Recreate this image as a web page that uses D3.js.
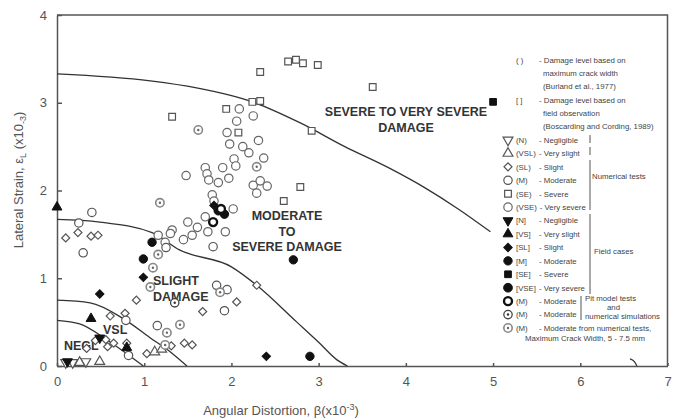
<!DOCTYPE html>
<html>
<head>
<meta charset="utf-8">
<script src="https://cdn.jsdelivr.net/npm/d3@7"></script>
<style>
  body { margin: 0; background: #fff; }
  svg { font-family: Arial, "Liberation Sans", sans-serif; }
  .axis text { font-size: 13px; fill: #555; }
  .axis path, .axis line { stroke: #555; stroke-width: 1.5; }
  .zone { font-weight: bold; font-size: 12.5px; fill: #333; }
  .leg { font-size: 7.8px; fill: #444; }
</style>
</head>
<body>
<script>
// numerical tests (open symbols)
var numN   = [[0.10,0.04],[0.18,0.04],[0.33,0.05]];
var numVSL = [[0.26,0.04],[0.49,0.05],[1.12,0.16],[1.20,0.19]];
var numSL  = [[0.10,1.46],[0.24,1.52],[0.39,1.48],[0.47,1.49],[0.91,0.75],[0.61,0.57],[0.78,0.60],
              [0.56,0.30],[0.44,0.29],[0.65,0.26],[0.58,0.22],[0.80,0.26],[1.03,0.14],[1.31,0.23],
              [1.46,0.26],[1.55,0.24],[1.67,0.62],[2.06,0.73],[2.29,0.92],[0.34,0.20]];
var numM   = [[0.40,1.75],[0.25,1.63],[0.30,1.29],[1.83,0.92],[1.95,0.87],[1.92,0.63],[1.15,0.46],
              [0.79,0.52],[0.82,0.12],[1.25,1.35],[1.79,1.36]];
var numSE  = [[2.65,3.47],[2.74,3.49],[2.82,3.45],[2.99,3.43],[2.33,3.35],[2.24,3.01],[2.33,3.02],
              [1.94,2.93],[1.32,2.84],[2.08,2.66],[2.92,2.68],[2.79,2.04],[2.60,1.88],[3.62,3.18]];
var numVSE = [[2.09,2.93],[2.25,2.85],[2.06,2.79],[1.95,2.66],[1.98,2.53],[2.13,2.50],[2.31,2.57],
              [2.20,2.43],[2.37,2.37],[2.03,2.36],[2.05,2.28],[1.90,2.26],[1.70,2.26],[1.72,2.19],
              [1.48,2.17],[1.74,2.12],[1.85,2.09],[1.97,2.14],[2.25,2.06],[2.33,2.11],[2.41,2.05],
              [2.29,1.97],[1.78,1.95],[1.80,1.88],[2.02,1.79],[1.50,1.64],[1.61,1.58],[1.70,1.70],
              [1.93,1.53],[1.73,1.53],[1.45,1.44],[1.55,1.49],[1.32,1.55],[1.16,1.49],[1.24,1.41],
              [1.30,1.51]];
// field cases (filled symbols)
var fieldN   = [[0.12,0.05],[0.49,0.32]];
var fieldVS  = [[0,1.81],[0.39,0.54],[0.80,0.21]];
var fieldSL  = [[0.49,0.82],[0.99,1.01],[2.40,0.11],[1.80,1.83]];
var fieldM   = [[1.09,1.41],[0.99,1.22],[2.71,1.21],[2.90,0.11],[1.92,1.73]];
var fieldSE  = [[5.0,3.01]];
var fieldVSE = [[1.85,1.77]];
// pit model tests / numerical simulations
var pitBold = [[1.79,1.64],[1.88,1.79]];
var pitDot  = [[1.35,0.72]];
var numGray = [[1.62,2.69],[2.29,2.27],[1.18,1.86],[1.16,1.27],[1.10,1.12],[1.07,0.90],[1.41,0.47],
               [1.26,0.38],[1.24,0.24],[1.87,0.84]];

// damage boundary curves
var curveSevere = [[0,3.33],[1.07,3.25],[1.6,3.17],[2.24,3.01],[2.79,2.77],[3.3,2.5],[3.8,2.26],[4.22,2.03],[4.6,1.79],[4.97,1.53]];
var curveSevereTail = [[6.57,0.08],[6.62,0.05],[6.65,0.0]];
var curveModerate = [[0,1.67],[0.49,1.64],[1.09,1.52],[1.41,1.32],[2.0,1.13],[2.29,0.92],[2.75,0.5],[3.0,0.27],[3.21,0.07],[3.33,0]];
var curveSlight = [[0,0.75],[0.38,0.72],[0.76,0.54],[1.07,0.32],[1.3,0.16],[1.49,0]];
var curveNegl = [[0,0.52],[0.26,0.48],[0.57,0.30],[0.8,0.14],[0.99,0]];

var xTicks = [0,1,2,3,4,5,6,7];
var yTicks = [0,1,2,3,4];

var svg = d3.select('body').append('svg')
    .attr('width', 681)
    .attr('height', 418);

var x = d3.scaleLinear().domain([0, 7]).range([57, 667.5]);
var y = d3.scaleLinear().domain([0, 4]).range([366, 15]);

// frame top / right
svg.append('path')
    .attr('d', 'M' + x(0) + ',' + y(4) + 'H' + x(7) + 'V' + y(0))
    .attr('fill', 'none').attr('stroke', '#555').attr('stroke-width', 1.5);

svg.append('g')
    .attr('class', 'axis')
    .attr('transform', 'translate(0,' + y(0) + ')')
    .call(d3.axisBottom(x).tickValues(xTicks).tickFormat(d3.format('d')).tickSizeInner(-3).tickSizeOuter(0).tickPadding(11));

svg.append('g')
    .attr('class', 'axis')
    .attr('transform', 'translate(' + x(0) + ',0)')
    .call(d3.axisLeft(y).tickValues(yTicks).tickFormat(d3.format('d')).tickSizeInner(-5).tickSizeOuter(0).tickPadding(10));

// boundary curves
var line = d3.line()
    .x(function(d) { return x(d[0]); })
    .y(function(d) { return y(d[1]); })
    .curve(d3.curveMonotoneX);

[curveSevere, curveSevereTail, curveModerate, curveSlight, curveNegl].forEach(function(c) {
  svg.append('path')
      .attr('d', line(c))
      .attr('fill', 'none')
      .attr('stroke', '#333')
      .attr('stroke-width', 1.3);
});

// zone labels
function zone(lines, cx, cy, anchor) {
  var t = svg.append('text').attr('class', 'zone').attr('text-anchor', anchor || 'middle');
  lines.forEach(function(s, i) {
    t.append('tspan').attr('x', cx).attr('y', cy + i * 15.5).text(s);
  });
}
zone(['SEVERE TO VERY SEVERE', 'DAMAGE'], 406, 116);
zone(['MODERATE', 'TO', 'SEVERE DAMAGE'], 287, 220);
zone(['SLIGHT', 'DAMAGE'], 153, 285, 'start');
zone(['VSL'], 103, 334, 'start');
zone(['NEGL'], 64, 350, 'start');

// marker styles
var styles = {
  numN:    {shape: d3.symbolTriangle, rot: 180, size: 42, fill: '#fff', stroke: '#555', sw: 1.2},
  numVSL:  {shape: d3.symbolTriangle, rot: 0,   size: 42, fill: '#fff', stroke: '#555', sw: 1.2},
  numSL:   {shape: d3.symbolSquare,   rot: 45,  size: 32, fill: '#fff', stroke: '#555', sw: 1.2},
  numM:    {shape: d3.symbolCircle,   rot: 0,   size: 55, fill: '#fff', stroke: '#555', sw: 1.2},
  numSE:   {shape: d3.symbolSquare,   rot: 0,   size: 45, fill: '#fff', stroke: '#555', sw: 1.2},
  numVSE:  {shape: d3.symbolCircle,   rot: 0,   size: 55, fill: '#fff', stroke: '#666', sw: 1.2},
  fieldN:  {shape: d3.symbolTriangle, rot: 180, size: 42, fill: '#111', stroke: '#111', sw: 1},
  fieldVS: {shape: d3.symbolTriangle, rot: 0,   size: 42, fill: '#111', stroke: '#111', sw: 1},
  fieldSL: {shape: d3.symbolSquare,   rot: 45,  size: 36, fill: '#111', stroke: '#111', sw: 1},
  fieldM:  {shape: d3.symbolCircle,   rot: 0,   size: 55, fill: '#111', stroke: '#111', sw: 1},
  fieldSE: {shape: d3.symbolSquare,   rot: 0,   size: 45, fill: '#111', stroke: '#111', sw: 1},
  fieldVSE:{shape: d3.symbolCircle,   rot: 0,   size: 60, fill: '#111', stroke: '#111', sw: 1},
  pitBold: {shape: d3.symbolCircle,   rot: 0,   size: 50, fill: '#fff', stroke: '#111', sw: 2.4},
  pitDot:  {shape: d3.symbolCircle,   rot: 0,   size: 55, fill: '#fff', stroke: '#444', sw: 1.3, dot: '#333'},
  numGray: {shape: d3.symbolCircle,   rot: 0,   size: 55, fill: '#fff', stroke: '#888', sw: 1.6, dot: '#666'}
};

function marker(g, key, px, py) {
  var s = styles[key];
  g.append('path')
      .attr('d', d3.symbol().type(s.shape).size(s.size)())
      .attr('transform', 'translate(' + px + ',' + py + ') rotate(' + s.rot + ')')
      .attr('fill', s.fill)
      .attr('stroke', s.stroke)
      .attr('stroke-width', s.sw);
  if (s.dot) {
    g.append('circle').attr('cx', px).attr('cy', py).attr('r', 1.2).attr('fill', s.dot);
  }
}

var series = {
  numSE: numSE, numVSE: numVSE, numSL: numSL, numM: numM, numN: numN, numVSL: numVSL,
  numGray: numGray, pitDot: pitDot, fieldN: fieldN, fieldVS: fieldVS, fieldSL: fieldSL,
  fieldM: fieldM, fieldSE: fieldSE, fieldVSE: fieldVSE, pitBold: pitBold
};

var marks = svg.append('g');
Object.keys(series).forEach(function(key) {
  series[key].forEach(function(d) {
    marker(marks, key, x(d[0]), y(d[1]));
  });
});

// legend
var legend = svg.append('g');
var legNotes = [
  ['( )', 516, 63], ['- Damage level based on', 539, 63], ['maximum crack width', 543, 76],
  ['(Burland et al., 1977)', 543, 89],
  ['[ ]', 516, 103], ['- Damage level based on', 539, 103], ['field observation', 543, 116],
  ['(Boscarding and Cording, 1989)', 543, 129]
];
legNotes.forEach(function(n) {
  legend.append('text').attr('class', 'leg').attr('x', n[1]).attr('y', n[2]).text(n[0]);
});

var legItems = [
  ['numN',     '(N)',   '- Negligible'],
  ['numVSL',   '(VSL)', '- Very slight'],
  ['numSL',    '(SL)',  '- Slight'],
  ['numM',     '(M)',   '- Moderate'],
  ['numSE',    '(SE)',  '- Severe'],
  ['numVSE',   '(VSE)', '- Very severe'],
  ['fieldN',   '[N]',   '- Negligible'],
  ['fieldVS',  '[VS]',  '- Very slight'],
  ['fieldSL',  '[SL]',  '- Slight'],
  ['fieldM',   '[M]',   '- Moderate'],
  ['fieldSE',  '[SE]',  '- Severe'],
  ['fieldVSE', '[VSE]', '- Very severe'],
  ['pitBold',  '(M)',   '- Moderate'],
  ['pitDot',   '(M)',   '- Moderate'],
  ['numGray',  '(M)',   '- Moderate from numerical tests,']
];
var legY = d3.scaleLinear().domain([0, 14]).range([140, 328]);
legItems.forEach(function(item, i) {
  marker(legend, item[0], 508, legY(i));
  var code = legend.append('text').attr('class', 'leg')
      .attr('x', 516).attr('y', legY(i) + 2.8)
      .text(item[1]);
  var w = code.node().getComputedTextLength();
  legend.append('text').attr('class', 'leg')
      .attr('x', Math.max(539, 516 + w + 3)).attr('y', legY(i) + 2.8)
      .text(item[2]);
});
legend.append('text').attr('class', 'leg').attr('x', 525).attr('y', 341)
    .text('Maximum Crack Width, 5 - 7.5 mm');

// brackets
function bracket(x0, y0, y1) {
  legend.append('line').attr('x1', x0).attr('x2', x0).attr('y1', y0).attr('y2', y1)
      .attr('stroke', '#555').attr('stroke-width', 1);
}
bracket(590, 135, 143); bracket(590, 147, 155); bracket(590, 160, 210);
bracket(590, 214, 294); bracket(581, 296, 320);
legend.append('text').attr('class', 'leg').attr('x', 592).attr('y', 179).text('Numerical tests');
legend.append('text').attr('class', 'leg').attr('x', 594).attr('y', 254).text('Field cases');
legend.append('text').attr('class', 'leg').attr('x', 585).attr('y', 301).text('Pit model tests');
legend.append('text').attr('class', 'leg').attr('x', 607).attr('y', 310).text('and');
legend.append('text').attr('class', 'leg').attr('x', 585).attr('y', 319).text('numerical simulations');

// axis titles
var yl = svg.append('text')
    .attr('transform', 'translate(23,180) rotate(-90)')
    .attr('text-anchor', 'middle')
    .attr('font-size', '13px')
    .attr('fill', '#555');
yl.append('tspan').text('Lateral Strain, ε');
yl.append('tspan').attr('font-size', '9px').attr('dy', 3).text('L');
yl.append('tspan').attr('dy', -3).text(' (x10');
yl.append('tspan').attr('font-size', '9px').attr('dy', 3).text('-3');
yl.append('tspan').attr('dy', -3).text(')');

var xl = svg.append('text')
    .attr('x', 281).attr('y', 415)
    .attr('text-anchor', 'middle')
    .attr('font-size', '13px')
    .attr('fill', '#555');
xl.append('tspan').text('Angular Distortion, β(x10');
xl.append('tspan').attr('font-size', '9px').attr('dy', -5).text('-3');
xl.append('tspan').attr('dy', 5).text(')');
</script>
</body>
</html>
